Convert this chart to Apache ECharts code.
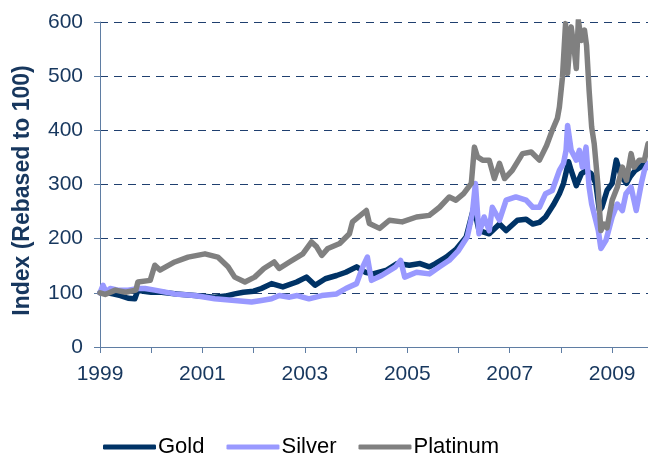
<!DOCTYPE html>
<html>
<head>
<meta charset="utf-8">
<script src="https://cdn.jsdelivr.net/npm/echarts@6/dist/echarts.min.js"></script>
<style>
  html, body { margin: 0; padding: 0; background: #fff; }
  #chart { width: 648px; height: 455px; }
</style>
</head>
<body>
<div id="chart"></div>
<script>
//== Precious metals index, rebased to 100 in Jan 1999
var goldYears = [1999.0, 1999.1, 1999.25, 1999.4, 1999.55, 1999.68, 1999.74, 1999.85, 2000.0, 2000.2,
    2000.5, 2000.85, 2001.24, 2001.45, 2001.63, 2001.8, 2002.0, 2002.15, 2002.35, 2002.57,
    2002.84, 2003.03, 2003.2, 2003.4, 2003.62, 2003.8, 2004.01, 2004.18, 2004.33, 2004.6,
    2004.8, 2005.04, 2005.25, 2005.43, 2005.55, 2005.76, 2005.95, 2006.15, 2006.3, 2006.4,
    2006.6, 2006.8, 2006.93, 2007.15, 2007.32, 2007.45, 2007.58, 2007.7, 2007.85, 2007.97,
    2008.05, 2008.15, 2008.2, 2008.3, 2008.4, 2008.49, 2008.59, 2008.68, 2008.75, 2008.8,
    2008.9, 2009.0, 2009.08, 2009.18, 2009.28, 2009.35, 2009.45, 2009.55, 2009.63, 2009.7];
var goldIndex = [100, 101, 98, 95, 90, 89, 105, 103, 101, 101,
    98, 95, 92, 94, 98, 101, 103, 108, 117, 111,
    120, 129, 114, 126, 132, 138, 148, 138, 135, 142,
    154, 151, 154, 148, 154, 166, 180, 203, 258, 215,
    209, 227, 215, 234, 236, 227, 230, 240, 262, 283,
    302, 342, 326, 298, 320, 326, 320, 302, 252, 258,
    289, 302, 345, 314, 302, 314, 326, 332, 339, 332];

var silverYears = [1999.0, 1999.06, 1999.12, 1999.2, 1999.35, 1999.55, 1999.75, 1999.88, 2000.07, 2000.46,
    2000.85, 2001.24, 2001.63, 2001.96, 2002.15, 2002.35, 2002.5, 2002.7, 2002.85, 2003.08,
    2003.33, 2003.62, 2003.8, 2004.01, 2004.13, 2004.22, 2004.3, 2004.5, 2004.77, 2004.87,
    2004.95, 2005.18, 2005.43, 2005.63, 2005.82, 2006.0, 2006.17, 2006.27, 2006.33, 2006.4,
    2006.5, 2006.6, 2006.66, 2006.8, 2006.93, 2007.12, 2007.32, 2007.45, 2007.58, 2007.7,
    2007.83, 2007.97, 2008.05, 2008.1, 2008.13, 2008.2, 2008.3, 2008.36, 2008.42, 2008.49,
    2008.55, 2008.6, 2008.68, 2008.73, 2008.78, 2008.88, 2009.0, 2009.1, 2009.2, 2009.27,
    2009.37, 2009.47, 2009.57, 2009.63, 2009.7];
var silverIndex = [100, 114, 101, 108, 105, 105, 108, 108, 105, 98,
    95, 89, 86, 83, 86, 89, 95, 92, 95, 89,
    95, 98, 108, 117, 148, 166, 123, 132, 148, 160,
    129, 138, 135, 148, 160, 178, 203, 246, 302, 209,
    240, 215, 258, 234, 271, 277, 271, 258, 258, 283,
    289, 326, 339, 363, 409, 363, 345, 363, 332, 369,
    295, 264, 234, 215, 182, 197, 240, 264, 252, 283,
    295, 252, 302, 326, 339];

var platinumYears = [1999.0, 1999.1, 1999.3, 1999.5, 1999.7, 1999.74, 1999.98, 2000.07, 2000.17, 2000.46,
    2000.72, 2001.05, 2001.3, 2001.5, 2001.63, 2001.83, 2002.02, 2002.2, 2002.4, 2002.5,
    2002.7, 2002.96, 2003.13, 2003.23, 2003.33, 2003.45, 2003.68, 2003.87, 2003.93, 2004.2,
    2004.26, 2004.46, 2004.65, 2004.9, 2005.18, 2005.43, 2005.63, 2005.82, 2005.95, 2006.1,
    2006.25, 2006.31, 2006.37, 2006.47, 2006.6, 2006.7, 2006.8, 2006.9, 2007.05, 2007.25,
    2007.42, 2007.58, 2007.72, 2007.83, 2007.93, 2007.97, 2008.03, 2008.09, 2008.13, 2008.2,
    2008.26, 2008.3, 2008.34, 2008.4, 2008.46, 2008.5, 2008.55, 2008.6, 2008.65, 2008.72,
    2008.78, 2008.84, 2008.9, 2009.0, 2009.1, 2009.2, 2009.28, 2009.37, 2009.43, 2009.53,
    2009.63, 2009.7];
var platinumIndex = [100, 97, 105, 101, 105, 120, 123, 151, 142, 157,
    166, 172, 166, 148, 129, 120, 129, 145, 157, 145,
    157, 172, 194, 185, 169, 182, 191, 209, 231, 252,
    228, 219, 234, 231, 240, 243, 258, 277, 271, 283,
    302, 369, 351, 345, 345, 311, 339, 311, 326, 357,
    360, 345, 372, 400, 422, 443, 498, 597, 505, 591,
    548, 514, 603, 566, 585, 557, 474, 406, 375, 302,
    215, 227, 220, 271, 295, 332, 308, 357, 332, 345,
    345, 375];

var yearMin = 1999;
var yearMax = 2009.7;

var pairs = function (xs, ys) {
    var out = [];
    for (var i = 0; i < xs.length; i++) {
        out.push([xs[i], ys[i]]);
    }
    return out;
};

var navy = '#17375E';
var font = 'Liberation Sans, Arial, sans-serif';

var lineSeries = function (name, color, data) {
    return {
        name: name,
        type: 'line',
        data: data,
        showSymbol: false,
        symbol: 'none',
        lineStyle: {width: 5.5, color: color, cap: 'round', join: 'round'},
        itemStyle: {color: color}
    };
};

var myChart = echarts.init(document.getElementById('chart'));
myChart.setOption({
    animation: false,
    grid: {left: 100, right: 0, top: 22, bottom: 108, outerBoundsMode: 'none', containLabel: false},
    legend: {
        left: 98,
        top: 431,
        icon: 'roundRect',
        itemWidth: 53,
        itemHeight: 5,
        itemGap: 22,
        textStyle: {color: '#000', fontSize: 22, fontFamily: font, padding: [0, 0, 0, -3]},
        data: ['Gold', 'Silver', 'Platinum']
    },
    xAxis: {
        type: 'value',
        min: yearMin,
        max: yearMax,
        interval: 1,
        axisLine: {show: true, lineStyle: {color: '#5F7DA3', width: 1}},
        axisTick: {show: true, length: 6, lineStyle: {color: '#5F7DA3'}},
        splitLine: {show: false},
        axisLabel: {
            color: navy,
            fontSize: 21,
            fontFamily: font,
            margin: 17,
            showMaxLabel: false,
            formatter: function (v) {
                return (Math.abs(v - Math.round(v)) < 1e-6 && Math.round(v) % 2 === 1) ? String(Math.round(v)) : '';
            }
        }
    },
    yAxis: {
        type: 'value',
        min: 0,
        max: 600,
        interval: 100,
        name: 'Index (Rebased to 100)',
        nameLocation: 'middle',
        nameGap: 66,
        nameTextStyle: {color: navy, fontSize: 23, fontWeight: 'bold', fontFamily: font, padding: [0, 12, 0, 0]},
        axisLine: {show: true, lineStyle: {color: '#5F7DA3', width: 1}},
        axisTick: {show: true, length: 6, lineStyle: {color: '#5F7DA3'}},
        axisLabel: {color: navy, fontSize: 21, fontFamily: font, margin: 17},
        splitLine: {
            show: true,
            lineStyle: {color: '#1F3F6F', type: [8, 6], width: 1}
        }
    },
    series: [
        lineSeries('Gold', '#003366', pairs(goldYears, goldIndex)),
        lineSeries('Silver', '#9999FF', pairs(silverYears, silverIndex)),
        lineSeries('Platinum', '#808080', pairs(platinumYears, platinumIndex))
    ]
});
</script>
</body>
</html>
